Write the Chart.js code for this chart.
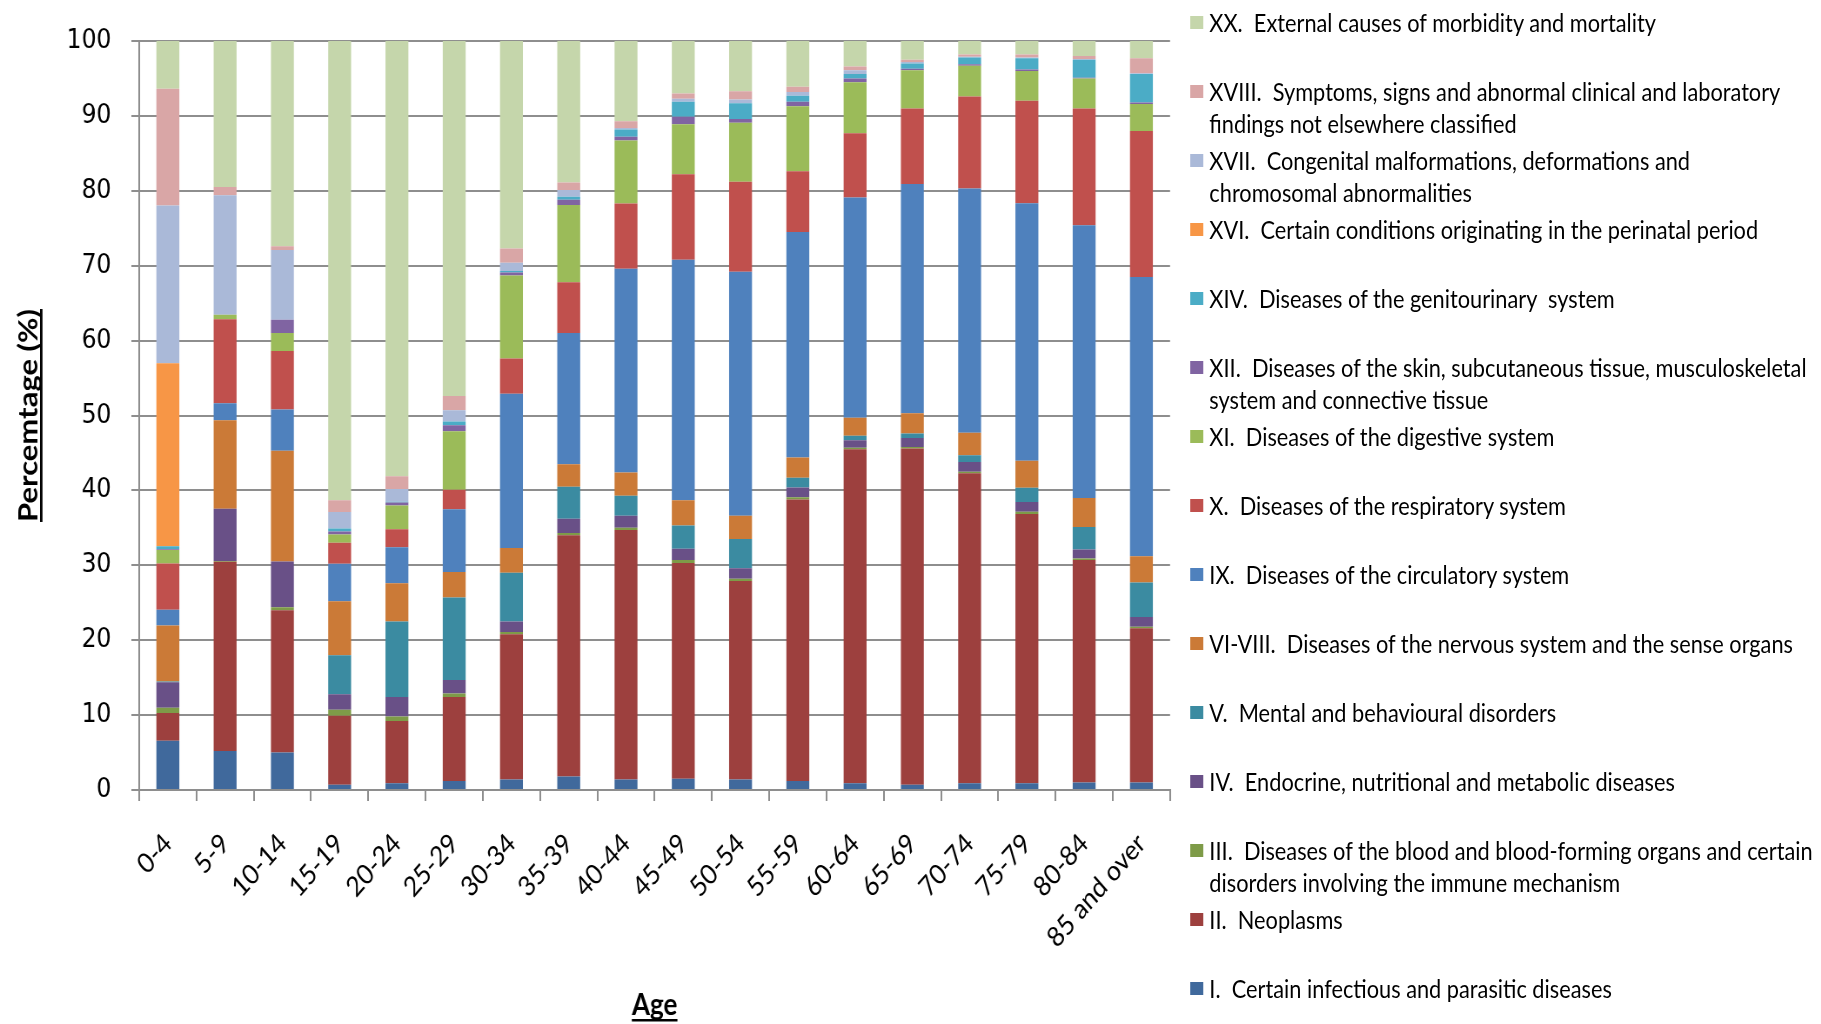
<!DOCTYPE html>
<html>
<head>
<meta charset="utf-8">
<title>Causes of death by age group</title>
<script src="https://cdn.jsdelivr.net/npm/chart.js@4/dist/chart.umd.min.js"></script>
<style>
  html, body { margin: 0; padding: 0; background: #fff; overflow: hidden; }
  #page { position: relative; width: 1821px; height: 1024px; overflow: hidden; }
  /* the whole figure is laid out on a wider sheet and set in a condensed width */
  #sheet { position: absolute; left: 0; top: 0; width: 2093px; height: 1024px;
           transform: scaleX(0.87004); transform-origin: 0 0; }
  #plot { position: absolute; left: 0; top: 0; width: 1362px; height: 1024px; }
  #legend { position: absolute; left: 1368px; top: 0; width: 725px; height: 1024px;
            font-family: Lato, "Open Sans", sans-serif; color: #000; }
  .item { position: absolute; left: 0; display: flex; align-items: flex-start; }
  .sw { flex: none; width: 15px; height: 13px; margin-top: 10px; margin-right: 7px; }
  .txt { white-space: pre-wrap; font-size: 25px; line-height: 32px; width: 703px; }
</style>
</head>
<body>
<div id="page">
  <div id="sheet">
    <div id="plot"><canvas id="chart" width="1362" height="1024"></canvas></div>
    <div id="legend"></div>
  </div>
</div>
<script>
// Age groups along the x axis
const ageGroups = ["0-4", "5-9", "10-14", "15-19", "20-24", "25-29", "30-34", "35-39", "40-44",
                   "45-49", "50-54", "55-59", "60-64", "65-69", "70-74", "75-79", "80-84", "85 and over"];

// Y axis ticks
const percentTicks = [0, 10, 20, 30, 40, 50, 60, 70, 80, 90, 100];

// Share of deaths (%) per ICD chapter, one value per age group
const chapI    = [6.6, 5.2, 5.0, 0.7, 0.9, 1.2, 1.4, 1.8, 1.4, 1.5, 1.4, 1.2, 0.9, 0.7, 0.9, 0.9, 1.0, 1.0];
const chapII   = [3.7, 25.3, 19.0, 9.2, 8.3, 11.2, 19.4, 32.2, 33.3, 28.8, 26.5, 37.6, 44.6, 44.9, 41.4, 36.0, 29.7, 20.6];
const chapIII  = [0.7, 0.1, 0.4, 0.8, 0.6, 0.5, 0.3, 0.3, 0.3, 0.4, 0.3, 0.3, 0.2, 0.2, 0.2, 0.3, 0.2, 0.2];
const chapIV   = [3.4, 7.0, 6.1, 2.1, 2.6, 1.8, 1.4, 1.9, 1.6, 1.5, 1.4, 1.3, 1.0, 1.2, 1.3, 1.3, 1.2, 1.3];
const chapV    = [0.1, 0.0, 0.0, 5.2, 10.1, 11.0, 6.5, 4.3, 2.7, 3.1, 3.9, 1.3, 0.6, 0.6, 0.9, 1.9, 3.0, 4.6];
const chapVI   = [7.5, 11.8, 14.8, 7.2, 5.1, 3.4, 3.3, 3.0, 3.1, 3.4, 3.1, 2.7, 2.4, 2.7, 3.0, 3.6, 3.9, 3.5];
const chapIX   = [2.1, 2.3, 5.5, 5.0, 4.8, 8.4, 20.6, 17.5, 27.2, 32.1, 32.6, 30.1, 29.4, 30.6, 32.6, 34.4, 36.4, 37.3];
const chapX    = [6.2, 11.2, 7.8, 2.8, 2.4, 2.6, 4.7, 6.8, 8.7, 11.4, 12.0, 8.1, 8.6, 10.1, 12.3, 13.7, 15.6, 19.5];
const chapXI   = [1.8, 0.6, 2.4, 1.1, 3.2, 7.8, 11.1, 10.3, 8.4, 6.7, 7.9, 8.7, 6.8, 5.1, 4.1, 4.0, 4.0, 3.6];
const chapXII  = [0.1, 0.0, 1.8, 0.4, 0.4, 0.8, 0.4, 0.7, 0.5, 1.0, 0.5, 0.6, 0.5, 0.2, 0.2, 0.2, 0.1, 0.2];
const chapXIV  = [0.4, 0.0, 0.0, 0.4, 0.1, 0.5, 0.2, 0.4, 1.0, 2.0, 2.1, 0.8, 0.6, 0.7, 0.9, 1.5, 2.4, 3.8];
const chapXVI  = [24.5, 0, 0, 0, 0, 0, 0, 0, 0, 0, 0, 0, 0, 0, 0, 0, 0, 0];
const chapXVII = [21.1, 16.0, 9.3, 2.2, 1.7, 1.5, 1.1, 0.9, 0.2, 0.4, 0.5, 0.5, 0.5, 0.2, 0.1, 0.1, 0.1, 0.1];
const chapXVIII= [15.6, 1.1, 0.5, 1.6, 1.7, 1.9, 1.9, 1.0, 0.9, 0.7, 1.1, 0.7, 0.5, 0.3, 0.3, 0.4, 0.4, 2.0];
const chapXX   = [6.4, 19.5, 27.4, 61.3, 58.1, 47.4, 27.7, 18.9, 10.7, 7.0, 6.7, 6.1, 3.4, 2.5, 1.8, 1.8, 2.0, 2.3];

// Series names (stacking order, bottom to top)
const seriesNames = [
  "I.  Certain infectious and parasitic diseases",
  "II.  Neoplasms",
  "III.  Diseases of the blood and blood-forming organs and certain disorders involving the immune mechanism",
  "IV.  Endocrine, nutritional and metabolic diseases",
  "V.  Mental and behavioural disorders",
  "VI-VIII.  Diseases of the nervous system and the sense organs",
  "IX.  Diseases of the circulatory system",
  "X.  Diseases of the respiratory system",
  "XI.  Diseases of the digestive system",
  "XII.  Diseases of the skin, subcutaneous tissue, musculoskeletal system and connective tissue",
  "XIV.  Diseases of the genitourinary  system",
  "XVI.  Certain conditions originating in the perinatal period",
  "XVII.  Congenital malformations, deformations and chromosomal abnormalities",
  "XVIII.  Symptoms, signs and abnormal clinical and laboratory findings not elsewhere classified",
  "XX.  External causes of morbidity and mortality"
];
const seriesValues = [chapI, chapII, chapIII, chapIV, chapV, chapVI, chapIX, chapX, chapXI,
                      chapXII, chapXIV, chapXVI, chapXVII, chapXVIII, chapXX];
const seriesColors = ["#40699c", "#9d403e", "#7e9b48", "#695087", "#3b8ba1", "#cb7a37", "#4f81bd",
                      "#c0504d", "#9bbb59", "#8064a2", "#4bacc6", "#f79646", "#aab9d8", "#d9a6a6", "#c5d6ab"];

// 100% stacked: each column is scaled to its own total
const totals = ageGroups.map((_, i) => seriesValues.reduce((s, arr) => s + arr[i], 0));
const datasets = seriesNames.map((name, k) => ({
  label: name,
  data: seriesValues[k].map((v, i) => v / totals[i] * 100),
  backgroundColor: seriesColors[k],
  borderWidth: 0,
  barPercentage: 0.4,
  categoryPercentage: 1.0
}));

const gridGray = "#8e8e8e";
const labelFont = "Lato, \"Open Sans\", sans-serif";

// Underlined bold axis titles
const axisTitles = {
  id: "axisTitles",
  afterDraw(chart) {
    const { ctx, chartArea: a } = chart;
    ctx.save();
    ctx.fillStyle = "#000";
    ctx.textAlign = "center";
    ctx.textBaseline = "alphabetic";

    ctx.font = "bold 30px " + labelFont;
    const xt = "Age";
    const cx = (a.left + a.right) / 2, by = 1015;
    ctx.fillText(xt, cx, by);
    let w = ctx.measureText(xt).width;
    ctx.fillRect(cx - w / 2, by + 4, w, 2.5);

    ctx.font = "bold 31px " + labelFont;
    const yt = "Percemtage (%)";
    ctx.translate(43, (a.top + a.bottom) / 2);
    ctx.rotate(-Math.PI / 2);
    ctx.fillText(yt, 0, 0);
    w = ctx.measureText(yt).width;
    ctx.fillRect(-w / 2, 3, w, 2.8);
    ctx.restore();
  }
};

const chart = new Chart(document.getElementById("chart"), {
  type: "bar",
  data: { labels: ageGroups, datasets },
  plugins: [axisTitles],
  options: {
    responsive: false,
    animation: false,
    layout: { padding: { top: 41, right: 12, left: 0, bottom: 0 } },
    plugins: { legend: { display: false }, tooltip: { enabled: false } },
    scales: {
      x: {
        stacked: true,
        grid: { drawOnChartArea: false, drawTicks: true, tickLength: 11, color: gridGray, lineWidth: 2 },
        border: { color: gridGray, width: 2 },
        ticks: { color: "#000", minRotation: 45, maxRotation: 45, padding: 26,
                 font: { family: labelFont, size: 28 } },
        afterFit(s) { s.height = 234; }
      },
      y: {
        stacked: true,
        min: 0, max: 100,
        afterBuildTicks(s) { s.ticks = percentTicks.map(v => ({ value: v })); },
        grid: { color: gridGray, lineWidth: 2, tickLength: 9 },
        border: { color: gridGray, width: 2 },
        ticks: { color: "#000", padding: 23, font: { family: "\"DejaVu Sans\", Verdana, sans-serif", size: 27 } },
        afterFit(s) { s.width = 160; }
      }
    }
  }
});

// Legend on the right, top entry first
const legend = document.getElementById("legend");
const order = chart.data.datasets.map((d, i) => i).reverse();
order.forEach((k, row) => {
  const ds = chart.data.datasets[k];
  const item = document.createElement("div");
  item.className = "item";
  item.style.top = (6 + row * 69) + "px";
  const sw = document.createElement("span");
  sw.className = "sw";
  sw.style.background = ds.backgroundColor;
  const tx = document.createElement("span");
  tx.className = "txt";
  tx.textContent = ds.label;
  item.appendChild(sw);
  item.appendChild(tx);
  legend.appendChild(item);
});
</script>
</body>
</html>
